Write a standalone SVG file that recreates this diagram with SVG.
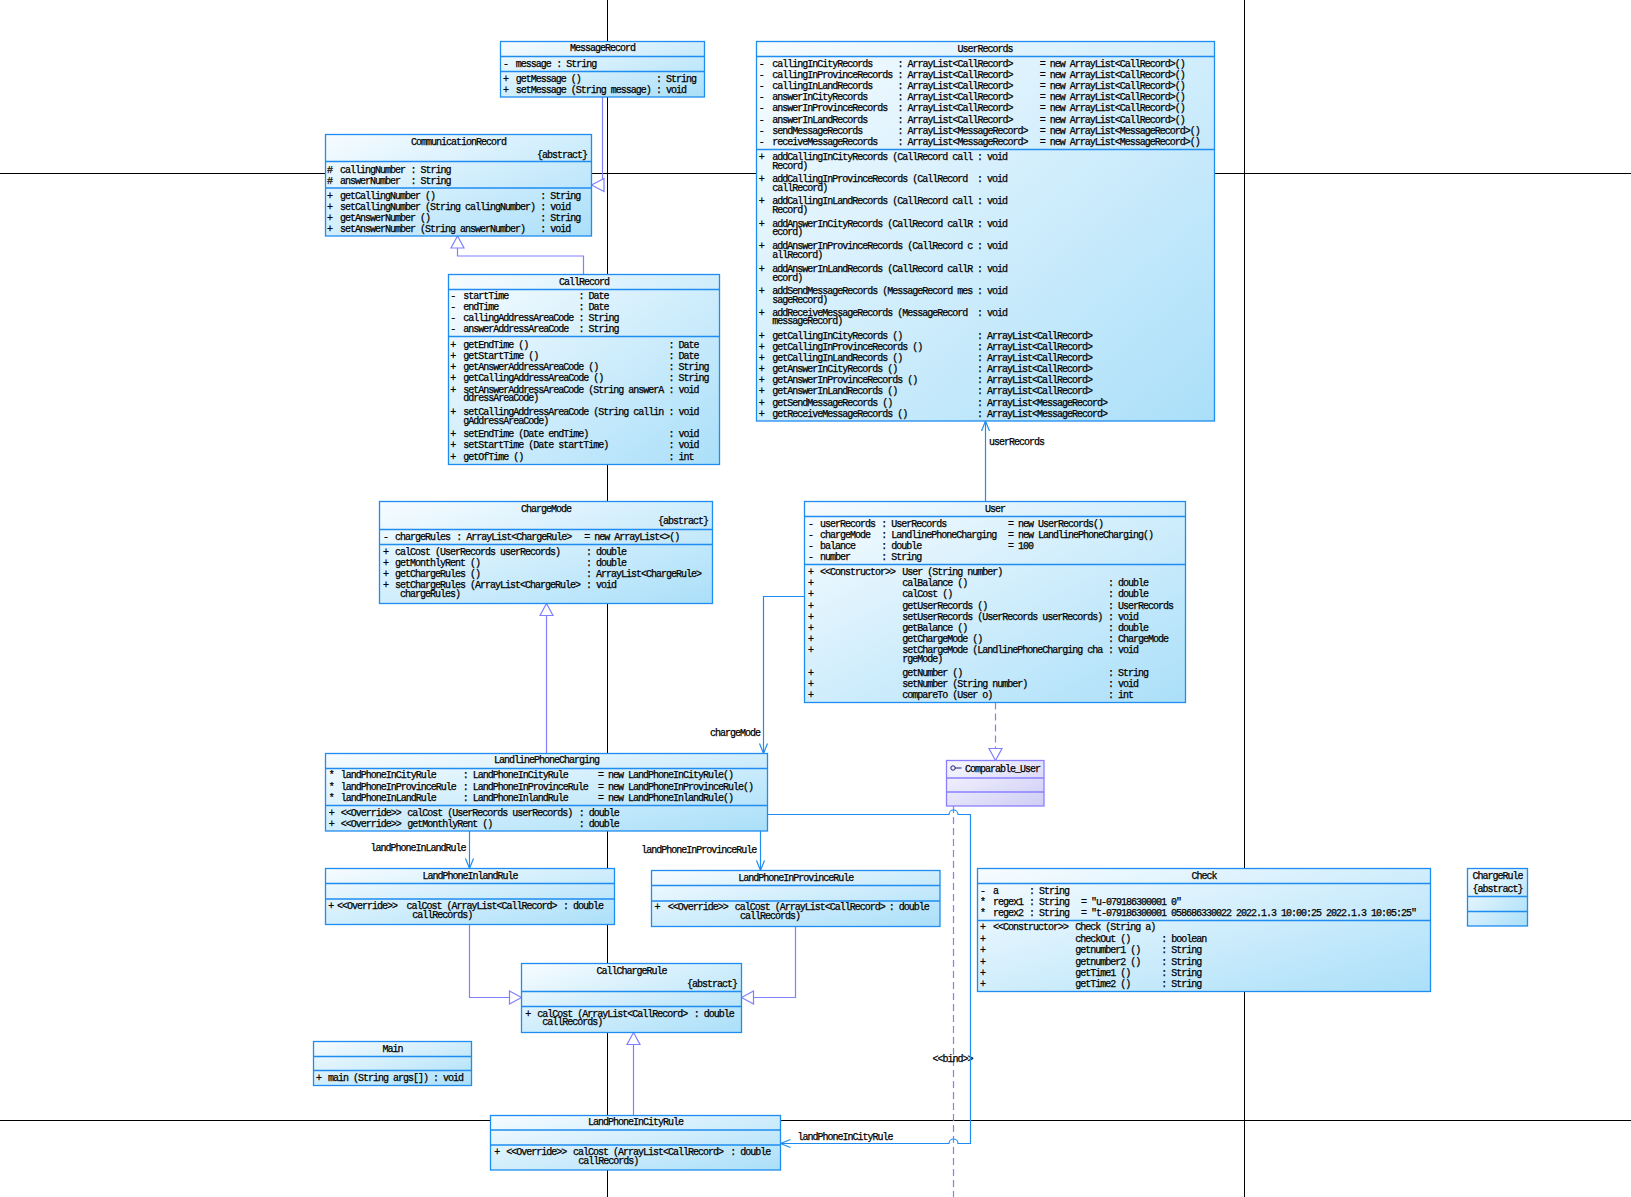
<svg xmlns="http://www.w3.org/2000/svg" width="1631" height="1197" viewBox="0 0 1631 1197">
<defs>
<linearGradient id="g" x1="0" y1="0" x2="1" y2="1">
<stop offset="0" stop-color="#f7fcff"/>
<stop offset="1" stop-color="#aadff9"/>
</linearGradient>
<linearGradient id="gi" x1="0" y1="0" x2="1" y2="1">
<stop offset="0" stop-color="#f7f7ff"/>
<stop offset="1" stop-color="#cfcdf5"/>
</linearGradient>
<style>
.box{fill:url(#g);stroke:#1e8cf0;stroke-width:1.3}
.ibox{fill:url(#gi);stroke:#8a80ff;stroke-width:1.3}
.sep{stroke:#1e8cf0;stroke-width:1.3}
.isep{stroke:#8a80ff;stroke-width:1.3}
text{font-family:"Liberation Mono","DejaVu Sans Mono",monospace;font-size:10px;letter-spacing:-1px;fill:#000;stroke:#000;stroke-width:0.25}
.c{text-anchor:middle}
.e{text-anchor:end}
.page{stroke:#000;stroke-width:1}
.gen{fill:none;stroke:#8080ff;stroke-width:1.2}
.tri{fill:#fff;stroke:#8080ff;stroke-width:1.2}
.dash{stroke-dasharray:7,4}
.as{fill:none;stroke:#1e8cf0;stroke-width:1.2}
</style>
</defs>
<rect width="1631" height="1197" fill="#fff"/>
<g id="page-lines">
<line class="page" x1="607.5" y1="0" x2="607.5" y2="1197"/>
<line class="page" x1="1244.5" y1="0" x2="1244.5" y2="1197"/>
<line class="page" x1="0" y1="173.5" x2="1631" y2="173.5"/>
<line class="page" x1="0" y1="1120.5" x2="1631" y2="1120.5"/>
</g>
<g id="connectors">
<path class="gen" d="M602.5,97 V185"/>
<polygon class="tri" points="591.5,185 604,178.5 604,191.5"/>
<path class="gen" d="M583.5,274.5 V256 H457.5 V248"/>
<polygon class="tri" points="457.5,236 451,248 464,248"/>
<path class="gen" d="M546.5,753.5 V615.5"/>
<polygon class="tri" points="546.5,603.5 540,615.5 553,615.5"/>
<path class="gen" d="M469.5,924.5 V997.5 H509.5"/>
<polygon class="tri" points="521.5,997.5 509.5,991 509.5,1004"/>
<path class="gen" d="M795.5,926.5 V997.5 H753.5"/>
<polygon class="tri" points="741.5,997.5 753.5,991 753.5,1004"/>
<path class="gen" d="M633.5,1115.5 V1044.5"/>
<polygon class="tri" points="633.5,1032.5 627,1044.5 640,1044.5"/>
<path class="gen dash" d="M995.5,702.5 V748.5"/>
<polygon class="tri" points="995.5,760.5 989,748.5 1002,748.5"/>
<path class="gen dash" d="M953.5,806 V1197"/>
<text class="c" x="952.5" y="1061.5">&lt;&lt;bind&gt;&gt;</text>
<path class="as" d="M985.5,501.5 V421"/>
<polyline class="as" points="981.5,431 985.5,421 989.5,431"/>
<text x="989" y="444.5">userRecords</text>
<path class="as" d="M804.5,596.5 H763.5 V753.5"/>
<polyline class="as" points="759.5,743.5 763.5,753.5 767.5,743.5"/>
<text class="c" x="735" y="735.8">chargeMode</text>
<path class="as" d="M469.5,831 V868.5"/>
<polyline class="as" points="465.5,858.5 469.5,868.5 473.5,858.5"/>
<text class="c" x="418" y="850.8">landPhoneInLandRule</text>
<path class="as" d="M760.5,831 V870.5"/>
<polyline class="as" points="756.5,860.5 760.5,870.5 764.5,860.5"/>
<text class="c" x="698.7" y="852.8">landPhoneInProvinceRule</text>
<path class="as" d="M767.5,814.5 H949 A4.5,4.5 0 0 1 958,814.5 H970.5 V1143.5 H958 A4.5,4.5 0 0 0 949,1143.5 H780.5"/>
<polyline class="as" points="790.5,1139.5 780.5,1143.5 790.5,1147.5"/>
<text class="c" x="845" y="1139.5">landPhoneInCityRule</text>
</g>
<g id="MessageRecord">
<rect class="box" x="500.5" y="41.5" width="204" height="55.5"/>
<line class="sep" x1="500.5" y1="56.5" x2="704.5" y2="56.5"/>
<line class="sep" x1="500.5" y1="71.5" x2="704.5" y2="71.5"/>
<text class="c" x="602.5" y="51.2">MessageRecord</text>
<text y="66.5"><tspan x="503">-</tspan><tspan x="515.7">message</tspan><tspan x="556.3">: String</tspan></text>
<text y="81.8"><tspan x="503">+</tspan><tspan x="515.7">getMessage ()</tspan><tspan x="656">: String</tspan></text>
<text y="92.8"><tspan x="503">+</tspan><tspan x="515.7">setMessage (String message)</tspan><tspan x="656">: void</tspan></text>
</g>
<g id="CommunicationRecord">
<rect class="box" x="325.5" y="134.5" width="266" height="101.5"/>
<line class="sep" x1="325.5" y1="161.5" x2="591.5" y2="161.5"/>
<line class="sep" x1="325.5" y1="188" x2="591.5" y2="188"/>
<text class="c" x="458.5" y="144.5">CommunicationRecord</text>
<text class="e" x="587" y="157.5">{abstract}</text>
<text y="172.5"><tspan x="327">#</tspan><tspan x="340">callingNumber</tspan><tspan x="410.5">: String</tspan></text>
<text y="183.5"><tspan x="327">#</tspan><tspan x="340">answerNumber</tspan><tspan x="410.5">: String</tspan></text>
<text y="198.5"><tspan x="327">+</tspan><tspan x="340">getCallingNumber ()</tspan><tspan x="540.3">: String</tspan></text>
<text y="209.5"><tspan x="327">+</tspan><tspan x="340">setCallingNumber (String callingNumber)</tspan><tspan x="540.3">: void</tspan></text>
<text y="220.5"><tspan x="327">+</tspan><tspan x="340">getAnswerNumber ()</tspan><tspan x="540.3">: String</tspan></text>
<text y="231.5"><tspan x="327">+</tspan><tspan x="340">setAnswerNumber (String answerNumber)</tspan><tspan x="540.3">: void</tspan></text>
</g>
<g id="CallRecord">
<rect class="box" x="448.5" y="274.5" width="271" height="190"/>
<line class="sep" x1="448.5" y1="289.5" x2="719.5" y2="289.5"/>
<line class="sep" x1="448.5" y1="336.5" x2="719.5" y2="336.5"/>
<text class="c" x="584" y="284.5">CallRecord</text>
<text y="298.8"><tspan x="450.3">-</tspan><tspan x="463.3">startTime</tspan><tspan x="578.5">: Date</tspan></text>
<text y="310"><tspan x="450.3">-</tspan><tspan x="463.3">endTime</tspan><tspan x="578.5">: Date</tspan></text>
<text y="321.2"><tspan x="450.3">-</tspan><tspan x="463.3">callingAddressAreaCode</tspan><tspan x="578.5">: String</tspan></text>
<text y="332.4"><tspan x="450.3">-</tspan><tspan x="463.3">answerAddressAreaCode</tspan><tspan x="578.5">: String</tspan></text>
<text y="347.5"><tspan x="450.3">+</tspan><tspan x="463.3">getEndTime ()</tspan><tspan x="668.5">: Date</tspan></text>
<text y="358.5"><tspan x="450.3">+</tspan><tspan x="463.3">getStartTime ()</tspan><tspan x="668.5">: Date</tspan></text>
<text y="369.8"><tspan x="450.3">+</tspan><tspan x="463.3">getAnswerAddressAreaCode ()</tspan><tspan x="668.5">: String</tspan></text>
<text y="380.8"><tspan x="450.3">+</tspan><tspan x="463.3">getCallingAddressAreaCode ()</tspan><tspan x="668.5">: String</tspan></text>
<text y="392.5"><tspan x="450.3">+</tspan><tspan x="463.3">setAnswerAddressAreaCode (String answerA</tspan><tspan x="668.5">: void</tspan></text>
<text x="463.3" y="400.8">ddressAreaCode)</text>
<text y="414.5"><tspan x="450.3">+</tspan><tspan x="463.3">setCallingAddressAreaCode (String callin</tspan><tspan x="668.5">: void</tspan></text>
<text x="463.3" y="423.5">gAddressAreaCode)</text>
<text y="436.8"><tspan x="450.3">+</tspan><tspan x="463.3">setEndTime (Date endTime)</tspan><tspan x="668.5">: void</tspan></text>
<text y="447.5"><tspan x="450.3">+</tspan><tspan x="463.3">setStartTime (Date startTime)</tspan><tspan x="668.5">: void</tspan></text>
<text y="459.5"><tspan x="450.3">+</tspan><tspan x="463.3">getOfTime ()</tspan><tspan x="668.5">: int</tspan></text>
</g>
<g id="UserRecords">
<rect class="box" x="756.5" y="41.5" width="458" height="379.5"/>
<line class="sep" x1="756.5" y1="56.5" x2="1214.5" y2="56.5"/>
<line class="sep" x1="756.5" y1="149.5" x2="1214.5" y2="149.5"/>
<text class="c" x="985" y="51.8">UserRecords</text>
<text y="66.8"><tspan x="758.7">-</tspan><tspan x="772.3">callingInCityRecords</tspan><tspan x="897.5">: ArrayList&lt;CallRecord&gt;</tspan><tspan x="1039.7">= new ArrayList&lt;CallRecord&gt;()</tspan></text>
<text y="77.8"><tspan x="758.7">-</tspan><tspan x="772.3">callingInProvinceRecords</tspan><tspan x="897.5">: ArrayList&lt;CallRecord&gt;</tspan><tspan x="1039.7">= new ArrayList&lt;CallRecord&gt;()</tspan></text>
<text y="88.8"><tspan x="758.7">-</tspan><tspan x="772.3">callingInLandRecords</tspan><tspan x="897.5">: ArrayList&lt;CallRecord&gt;</tspan><tspan x="1039.7">= new ArrayList&lt;CallRecord&gt;()</tspan></text>
<text y="99.8"><tspan x="758.7">-</tspan><tspan x="772.3">answerInCityRecords</tspan><tspan x="897.5">: ArrayList&lt;CallRecord&gt;</tspan><tspan x="1039.7">= new ArrayList&lt;CallRecord&gt;()</tspan></text>
<text y="110.8"><tspan x="758.7">-</tspan><tspan x="772.3">answerInProvinceRecords</tspan><tspan x="897.5">: ArrayList&lt;CallRecord&gt;</tspan><tspan x="1039.7">= new ArrayList&lt;CallRecord&gt;()</tspan></text>
<text y="122.5"><tspan x="758.7">-</tspan><tspan x="772.3">answerInLandRecords</tspan><tspan x="897.5">: ArrayList&lt;CallRecord&gt;</tspan><tspan x="1039.7">= new ArrayList&lt;CallRecord&gt;()</tspan></text>
<text y="133.8"><tspan x="758.7">-</tspan><tspan x="772.3">sendMessageRecords</tspan><tspan x="897.5">: ArrayList&lt;MessageRecord&gt;</tspan><tspan x="1039.7">= new ArrayList&lt;MessageRecord&gt;()</tspan></text>
<text y="144.8"><tspan x="758.7">-</tspan><tspan x="772.3">receiveMessageRecords</tspan><tspan x="897.5">: ArrayList&lt;MessageRecord&gt;</tspan><tspan x="1039.7">= new ArrayList&lt;MessageRecord&gt;()</tspan></text>
<text y="159.5"><tspan x="758.7">+</tspan><tspan x="772.3">addCallingInCityRecords (CallRecord call</tspan><tspan x="977">: void</tspan></text>
<text x="772.3" y="168.5">Record)</text>
<text y="181.8"><tspan x="758.7">+</tspan><tspan x="772.3">addCallingInProvinceRecords (CallRecord</tspan><tspan x="977">: void</tspan></text>
<text x="772.3" y="190.8">callRecord)</text>
<text y="203.8"><tspan x="758.7">+</tspan><tspan x="772.3">addCallingInLandRecords (CallRecord call</tspan><tspan x="977">: void</tspan></text>
<text x="772.3" y="212.5">Record)</text>
<text y="226.8"><tspan x="758.7">+</tspan><tspan x="772.3">addAnswerInCityRecords (CallRecord callR</tspan><tspan x="977">: void</tspan></text>
<text x="772.3" y="235.2">ecord)</text>
<text y="248.5"><tspan x="758.7">+</tspan><tspan x="772.3">addAnswerInProvinceRecords (CallRecord c</tspan><tspan x="977">: void</tspan></text>
<text x="772.3" y="257.5">allRecord)</text>
<text y="271.5"><tspan x="758.7">+</tspan><tspan x="772.3">addAnswerInLandRecords (CallRecord callR</tspan><tspan x="977">: void</tspan></text>
<text x="772.3" y="280.5">ecord)</text>
<text y="293.8"><tspan x="758.7">+</tspan><tspan x="772.3">addSendMessageRecords (MessageRecord mes</tspan><tspan x="977">: void</tspan></text>
<text x="772.3" y="302.5">sageRecord)</text>
<text y="315.5"><tspan x="758.7">+</tspan><tspan x="772.3">addReceiveMessageRecords (MessageRecord</tspan><tspan x="977">: void</tspan></text>
<text x="772.3" y="324.2">messageRecord)</text>
<text y="338.8"><tspan x="758.7">+</tspan><tspan x="772.3">getCallingInCityRecords ()</tspan><tspan x="977">: ArrayList&lt;CallRecord&gt;</tspan></text>
<text y="349.8"><tspan x="758.7">+</tspan><tspan x="772.3">getCallingInProvinceRecords ()</tspan><tspan x="977">: ArrayList&lt;CallRecord&gt;</tspan></text>
<text y="360.8"><tspan x="758.7">+</tspan><tspan x="772.3">getCallingInLandRecords ()</tspan><tspan x="977">: ArrayList&lt;CallRecord&gt;</tspan></text>
<text y="371.8"><tspan x="758.7">+</tspan><tspan x="772.3">getAnswerInCityRecords ()</tspan><tspan x="977">: ArrayList&lt;CallRecord&gt;</tspan></text>
<text y="382.8"><tspan x="758.7">+</tspan><tspan x="772.3">getAnswerInProvinceRecords ()</tspan><tspan x="977">: ArrayList&lt;CallRecord&gt;</tspan></text>
<text y="393.8"><tspan x="758.7">+</tspan><tspan x="772.3">getAnswerInLandRecords ()</tspan><tspan x="977">: ArrayList&lt;CallRecord&gt;</tspan></text>
<text y="405.8"><tspan x="758.7">+</tspan><tspan x="772.3">getSendMessageRecords ()</tspan><tspan x="977">: ArrayList&lt;MessageRecord&gt;</tspan></text>
<text y="416.8"><tspan x="758.7">+</tspan><tspan x="772.3">getReceiveMessageRecords ()</tspan><tspan x="977">: ArrayList&lt;MessageRecord&gt;</tspan></text>
</g>
<g id="ChargeMode">
<rect class="box" x="379.5" y="501.5" width="333" height="102"/>
<line class="sep" x1="379.5" y1="529.5" x2="712.5" y2="529.5"/>
<line class="sep" x1="379.5" y1="544.5" x2="712.5" y2="544.5"/>
<text class="c" x="546" y="511.8">ChargeMode</text>
<text class="e" x="708" y="524.2">{abstract}</text>
<text y="540.2"><tspan x="383">-</tspan><tspan x="395">chargeRules</tspan><tspan x="456.3">: ArrayList&lt;ChargeRule&gt;</tspan><tspan x="584.3">= new ArrayList&lt;&gt;()</tspan></text>
<text y="554.5"><tspan x="383">+</tspan><tspan x="395">calCost (UserRecords userRecords)</tspan><tspan x="586">: double</tspan></text>
<text y="565.5"><tspan x="383">+</tspan><tspan x="395">getMonthlyRent ()</tspan><tspan x="586">: double</tspan></text>
<text y="576.5"><tspan x="383">+</tspan><tspan x="395">getChargeRules ()</tspan><tspan x="586">: ArrayList&lt;ChargeRule&gt;</tspan></text>
<text y="587.5"><tspan x="383">+</tspan><tspan x="395">setChargeRules (ArrayList&lt;ChargeRule&gt;</tspan><tspan x="586">: void</tspan></text>
<text x="400" y="596.5">chargeRules)</text>
</g>
<g id="User">
<rect class="box" x="804.5" y="501.5" width="381" height="201"/>
<line class="sep" x1="804.5" y1="516.5" x2="1185.5" y2="516.5"/>
<line class="sep" x1="804.5" y1="564.5" x2="1185.5" y2="564.5"/>
<text class="c" x="995" y="511.8">User</text>
<text y="526.8"><tspan x="808">-</tspan><tspan x="820">userRecords</tspan><tspan x="881.3">: UserRecords</tspan><tspan x="1008">= new UserRecords()</tspan></text>
<text y="537.8"><tspan x="808">-</tspan><tspan x="820">chargeMode</tspan><tspan x="881.3">: LandlinePhoneCharging</tspan><tspan x="1008">= new LandlinePhoneCharging()</tspan></text>
<text y="548.8"><tspan x="808">-</tspan><tspan x="820">balance</tspan><tspan x="881.3">: double</tspan><tspan x="1008">= 100</tspan></text>
<text y="559.8"><tspan x="808">-</tspan><tspan x="820">number</tspan><tspan x="881.3">: String</tspan></text>
<text y="574.8"><tspan x="808">+</tspan><tspan x="820">&lt;&lt;Constructor&gt;&gt;</tspan><tspan x="902.3">User (String number)</tspan></text>
<text y="585.8"><tspan x="808">+</tspan><tspan x="902.3">calBalance ()</tspan><tspan x="1108">: double</tspan></text>
<text y="596.8"><tspan x="808">+</tspan><tspan x="902.3">calCost ()</tspan><tspan x="1108">: double</tspan></text>
<text y="608.5"><tspan x="808">+</tspan><tspan x="902.3">getUserRecords ()</tspan><tspan x="1108">: UserRecords</tspan></text>
<text y="619.5"><tspan x="808">+</tspan><tspan x="902.3">setUserRecords (UserRecords userRecords)</tspan><tspan x="1108">: void</tspan></text>
<text y="630.5"><tspan x="808">+</tspan><tspan x="902.3">getBalance ()</tspan><tspan x="1108">: double</tspan></text>
<text y="641.8"><tspan x="808">+</tspan><tspan x="902.3">getChargeMode ()</tspan><tspan x="1108">: ChargeMode</tspan></text>
<text y="652.8"><tspan x="808">+</tspan><tspan x="902.3">setChargeMode (LandlinePhoneCharging cha</tspan><tspan x="1108">: void</tspan></text>
<text x="902.3" y="661.8">rgeMode)</text>
<text y="675.5"><tspan x="808">+</tspan><tspan x="902.3">getNumber ()</tspan><tspan x="1108">: String</tspan></text>
<text y="686.8"><tspan x="808">+</tspan><tspan x="902.3">setNumber (String number)</tspan><tspan x="1108">: void</tspan></text>
<text y="697.8"><tspan x="808">+</tspan><tspan x="902.3">compareTo (User o)</tspan><tspan x="1108">: int</tspan></text>
</g>
<g id="LandlinePhoneCharging">
<rect class="box" x="325.5" y="753.5" width="442" height="77.5"/>
<line class="sep" x1="325.5" y1="768.5" x2="767.5" y2="768.5"/>
<line class="sep" x1="325.5" y1="805.5" x2="767.5" y2="805.5"/>
<text class="c" x="546.5" y="762.8">LandlinePhoneCharging</text>
<text y="778"><tspan x="328.7">*</tspan><tspan x="340.7">landPhoneInCityRule</tspan><tspan x="462.7">: LandPhoneInCityRule</tspan><tspan x="598">= new LandPhoneInCityRule()</tspan></text>
<text y="789.5"><tspan x="328.7">*</tspan><tspan x="340.7">landPhoneInProvinceRule</tspan><tspan x="462.7">: LandPhoneInProvinceRule</tspan><tspan x="598">= new LandPhoneInProvinceRule()</tspan></text>
<text y="800.8"><tspan x="328.7">*</tspan><tspan x="340.7">landPhoneInLandRule</tspan><tspan x="462.7">: LandPhoneInlandRule</tspan><tspan x="598">= new LandPhoneInlandRule()</tspan></text>
<text y="815.8"><tspan x="328.7">+</tspan><tspan x="340.7">&lt;&lt;Override&gt;&gt;</tspan><tspan x="407.3">calCost (UserRecords userRecords)</tspan><tspan x="578.7">: double</tspan></text>
<text y="826.8"><tspan x="328.7">+</tspan><tspan x="340.7">&lt;&lt;Override&gt;&gt;</tspan><tspan x="407.3">getMonthlyRent ()</tspan><tspan x="578.7">: double</tspan></text>
</g>
<g id="LandPhoneInlandRule">
<rect class="box" x="325.5" y="868.5" width="289" height="56"/>
<line class="sep" x1="325.5" y1="883.5" x2="614.5" y2="883.5"/>
<line class="sep" x1="325.5" y1="899" x2="614.5" y2="899"/>
<text class="c" x="470" y="878.5">LandPhoneInlandRule</text>
<text y="908.5"><tspan x="328.2">+</tspan><tspan x="337">&lt;&lt;Override&gt;&gt;</tspan><tspan x="406.6">calCost (ArrayList&lt;CallRecord&gt;</tspan><tspan x="562.9">: double</tspan></text>
<text x="412.2" y="917.5">callRecords)</text>
</g>
<g id="LandPhoneInProvinceRule">
<rect class="box" x="651.5" y="870.5" width="288.5" height="56"/>
<line class="sep" x1="651.5" y1="885.5" x2="940" y2="885.5"/>
<line class="sep" x1="651.5" y1="901" x2="940" y2="901"/>
<text class="c" x="795.8" y="880.8">LandPhoneInProvinceRule</text>
<text y="909.5"><tspan x="654.5">+</tspan><tspan x="667.7">&lt;&lt;Override&gt;&gt;</tspan><tspan x="734.8">calCost (ArrayList&lt;CallRecord&gt;</tspan><tspan x="888.7">: double</tspan></text>
<text x="740" y="918.8">callRecords)</text>
</g>
<g id="CallChargeRule">
<rect class="box" x="521.5" y="963.5" width="220" height="69"/>
<line class="sep" x1="521.5" y1="991.5" x2="741.5" y2="991.5"/>
<line class="sep" x1="521.5" y1="1006.5" x2="741.5" y2="1006.5"/>
<text class="c" x="631.5" y="973.5">CallChargeRule</text>
<text class="e" x="737" y="986.8">{abstract}</text>
<text y="1016.8"><tspan x="525.3">+</tspan><tspan x="537.3">calCost (ArrayList&lt;CallRecord&gt;</tspan><tspan x="693.7">: double</tspan></text>
<text x="542.3" y="1025.2">callRecords)</text>
</g>
<g id="Main">
<rect class="box" x="313.5" y="1041.5" width="158" height="44"/>
<line class="sep" x1="313.5" y1="1056.5" x2="471.5" y2="1056.5"/>
<line class="sep" x1="313.5" y1="1070.5" x2="471.5" y2="1070.5"/>
<text class="c" x="392.5" y="1051.8">Main</text>
<text y="1080.8"><tspan x="316">+</tspan><tspan x="328">main (String args[]) : void</tspan></text>
</g>
<g id="LandPhoneInCityRule">
<rect class="box" x="490.5" y="1115.5" width="290" height="54.5"/>
<line class="sep" x1="490.5" y1="1130" x2="780.5" y2="1130"/>
<line class="sep" x1="490.5" y1="1145" x2="780.5" y2="1145"/>
<text class="c" x="635.5" y="1124.8">LandPhoneInCityRule</text>
<text y="1154.8"><tspan x="494.3">+</tspan><tspan x="506.3">&lt;&lt;Override&gt;&gt;</tspan><tspan x="573">calCost (ArrayList&lt;CallRecord&gt;</tspan><tspan x="730.3">: double</tspan></text>
<text x="578.3" y="1163.5">callRecords)</text>
</g>
<g id="Comparable_User">
<rect class="ibox" x="946.5" y="760.5" width="97.5" height="45.5"/>
<line class="isep" x1="946.5" y1="778" x2="1044" y2="778"/>
<line class="isep" x1="946.5" y1="792" x2="1044" y2="792"/>
<circle cx="953" cy="768" r="2.2" fill="none" stroke="#1a1a7a" stroke-width="1"/>
<line x1="955.2" y1="768" x2="961.5" y2="768" stroke="#1a1a7a" stroke-width="1"/>
<text x="965" y="771.5">Comparable_User</text>
</g>
<g id="Check">
<rect class="box" x="977.5" y="868.5" width="453" height="123"/>
<line class="sep" x1="977.5" y1="883.5" x2="1430.5" y2="883.5"/>
<line class="sep" x1="977.5" y1="920.5" x2="1430.5" y2="920.5"/>
<text class="c" x="1204" y="878.5">Check</text>
<text y="893.5"><tspan x="980">-</tspan><tspan x="993">a</tspan><tspan x="1029">: String</tspan></text>
<text y="904.5"><tspan x="980">*</tspan><tspan x="993">regex1</tspan><tspan x="1029">: String</tspan><tspan x="1081">= "u-079186300001 0"</tspan></text>
<text y="915.5"><tspan x="980">*</tspan><tspan x="993">regex2</tspan><tspan x="1029">: String</tspan><tspan x="1081">= "t-079186300001 058686330022 2022.1.3 10:00:25 2022.1.3 10:05:25"</tspan></text>
<text y="930.2"><tspan x="980">+</tspan><tspan x="993">&lt;&lt;Constructor&gt;&gt;</tspan><tspan x="1075.3">Check (String a)</tspan></text>
<text y="941.8"><tspan x="980">+</tspan><tspan x="1075.3">checkOut ()</tspan><tspan x="1161.2">: boolean</tspan></text>
<text y="952.8"><tspan x="980">+</tspan><tspan x="1075.3">getnumber1 ()</tspan><tspan x="1161.2">: String</tspan></text>
<text y="964.5"><tspan x="980">+</tspan><tspan x="1075.3">getnumber2 ()</tspan><tspan x="1161.2">: String</tspan></text>
<text y="975.5"><tspan x="980">+</tspan><tspan x="1075.3">getTime1 ()</tspan><tspan x="1161.2">: String</tspan></text>
<text y="986.5"><tspan x="980">+</tspan><tspan x="1075.3">getTime2 ()</tspan><tspan x="1161.2">: String</tspan></text>
</g>
<g id="ChargeRule">
<rect class="box" x="1467.5" y="868.5" width="60" height="57.5"/>
<line class="sep" x1="1467.5" y1="896.5" x2="1527.5" y2="896.5"/>
<line class="sep" x1="1467.5" y1="911.5" x2="1527.5" y2="911.5"/>
<text class="c" x="1497.5" y="878.5">ChargeRule</text>
<text class="c" x="1497.5" y="891.5">{abstract}</text>
</g>
</svg>
